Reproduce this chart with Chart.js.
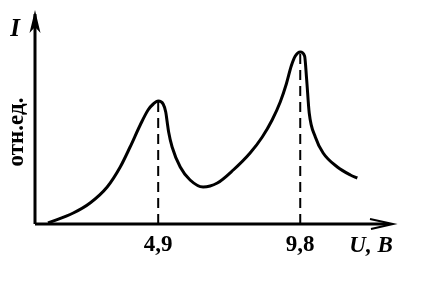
<!DOCTYPE html>
<html>
<head>
<meta charset="utf-8">
<script src="https://cdn.jsdelivr.net/npm/chart.js@4"></script>
<style>
html,body{margin:0;padding:0;background:#fff;}
#wrap{width:442px;height:294px;position:relative;}
</style>
</head>
<body>
<div id="wrap"><canvas id="c" width="442" height="294"></canvas></div>
<script>
// Voltage U (B) and relative current I (отн.ед.)
const voltage = [1.10, 1.97, 2.55, 3.14, 3.59, 3.93, 4.28, 4.55, 4.73, 4.90, 5.07, 5.16, 5.21, 5.26, 5.38, 5.66, 6.00, 6.45, 6.94, 7.49, 8.07, 8.49, 8.83, 9.11, 9.32, 9.49, 9.63, 9.80, 9.95, 10.02, 10.11, 10.32, 10.59, 11.08, 11.53, 11.77];
const current = [1, 11, 21, 37, 57, 77, 99, 114, 120, 123, 120, 112, 102, 92, 77, 57, 44, 37, 41, 54, 71, 87, 104, 122, 140, 158, 168, 172, 168, 145, 111, 87, 71, 57, 49, 46];
const tickValues = [4.9, 9.8];
const tickLabels = ['4,9', '9,8'];
const peakCurrent = [123, 172];
const yAxisLabel = 'I';
const yUnitLabel = 'отн.ед.';
const xAxisLabel = 'U, B';

const curve = voltage.map((u, i) => ({x: u, y: current[i]}));
const dashed = tickValues.map((v, i) => ({
  type: 'line',
  data: [{x: v, y: 0}, {x: v, y: peakCurrent[i]}],
  borderColor: '#000', borderWidth: 2, borderDash: [10, 6],
  pointRadius: 0, tension: 0, fill: false
}));

const SERIF = '"Liberation Serif", "Times New Roman", serif';

const decor = {
  id: 'decor',
  afterDraw(chart) {
    const ctx = chart.ctx;
    const xs = chart.scales.x, ys = chart.scales.y;
    const x0 = xs.left, y0 = ys.getPixelForValue(0);
    const xr = xs.right, yt = ys.top;
    ctx.save();
    ctx.strokeStyle = '#000'; ctx.fillStyle = '#000';
    // axes
    ctx.lineWidth = 3;
    ctx.beginPath();
    ctx.moveTo(x0, y0); ctx.lineTo(xr - 4, y0);
    ctx.moveTo(x0, y0); ctx.lineTo(x0, yt + 4);
    ctx.stroke();
    // y arrow
    ctx.beginPath();
    ctx.moveTo(x0, yt);
    ctx.lineTo(x0 - 5.5, yt + 23);
    ctx.lineTo(x0, yt + 17);
    ctx.lineTo(x0 + 5.5, yt + 23);
    ctx.closePath(); ctx.fill();
    // x arrow
    ctx.lineWidth = 2;
    ctx.beginPath();
    ctx.moveTo(xr - 23, y0 - 5); ctx.lineTo(xr, y0); ctx.lineTo(xr - 22, y0 + 5);
    ctx.stroke();
    // tick labels
    ctx.font = 'bold 23px ' + SERIF;
    ctx.textAlign = 'center'; ctx.textBaseline = 'middle';
    tickValues.forEach((v, i) => {
      ctx.fillText(tickLabels[i], xs.getPixelForValue(v), y0 + 21);
    });
    // axis titles
    ctx.font = 'italic bold 23px ' + SERIF;
    ctx.fillText(xAxisLabel, xr - 22, y0 + 22);
    ctx.font = 'italic bold 25px ' + SERIF;
    ctx.fillText(yAxisLabel, x0 - 20, yt + 20);
    ctx.save();
    ctx.translate(x0 - 18, 132);
    ctx.rotate(-Math.PI / 2);
    ctx.font = 'bold 23px ' + SERIF;
    ctx.fillText(yUnitLabel, 0, 0);
    ctx.restore();
    ctx.restore();
  }
};

new Chart(document.getElementById('c'), {
  type: 'line',
  data: {
    datasets: [{
      data: curve,
      borderColor: '#000', borderWidth: 3,
      pointRadius: 0, tension: 0.4, fill: false,
      cubicInterpolationMode: 'monotone'
    }, ...dashed]
  },
  options: {
    responsive: false, animation: false,
    layout: {padding: {left: 35, right: 49, top: 10, bottom: 70}},
    plugins: {legend: {display: false}, tooltip: {enabled: false}},
    scales: {
      x: {type: 'linear', min: 0.65, max: 13.0, display: false},
      y: {type: 'linear', min: 0, max: 214, display: false}
    }
  },
  plugins: [decor]
});
</script>
</body>
</html>
